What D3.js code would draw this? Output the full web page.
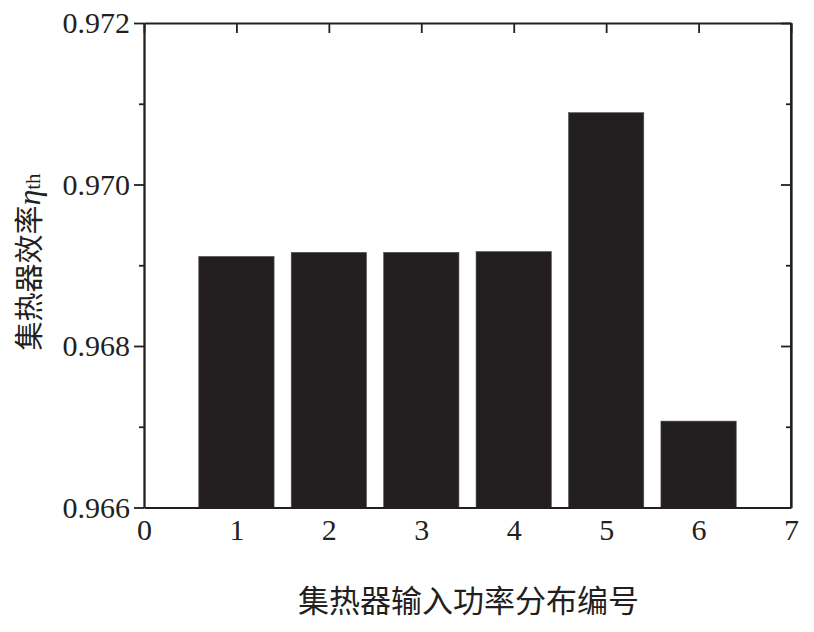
<!DOCTYPE html>
<html><head><meta charset="utf-8">
<script src="https://cdn.jsdelivr.net/npm/d3@7"></script>
<style>body{margin:0;background:#fff}svg{display:block}</style>
</head><body>
<svg id="c" width="814" height="632"></svg>
<script>
const categories = [1, 2, 3, 4, 5, 6];
const values = [0.96911, 0.96916, 0.96916, 0.96917, 0.97089, 0.96707];
const xTicks = [0, 1, 2, 3, 4, 5, 6, 7];
const yMajorTicks = [0.966, 0.968, 0.970, 0.972];
const yMinorTicks = [0.967, 0.969, 0.971];
const xTitle = "集热器输入功率分布编号";
const yTitle = "集热器效率";

const svg = d3.select("#c");
const m = {l: 144, r: 791, t: 23, b: 507.5};
const ink = "#231f20";
const x = d3.scaleLinear().domain([0, 7]).range([m.l, m.r]);
const y = d3.scaleLinear().domain([0.966, 0.972]).range([m.b, m.t]);
const bw = (x(1) - x(0)) * 0.815;

svg.append("g").selectAll("rect").data(categories).join("rect")
  .attr("x", (d) => x(d) - bw / 2)
  .attr("width", bw)
  .attr("y", (d, i) => y(values[i]))
  .attr("height", (d, i) => y(0.966) - y(values[i]))
  .attr("fill", ink)
  .attr("stroke", "#555")
  .attr("stroke-width", 0.6);

const font = "'Liberation Serif', 'Times New Roman', serif";
function styleAxis(g) {
  g.selectAll("path,line").attr("stroke", ink).attr("stroke-width", 1.8);
  g.selectAll("text").attr("font-family", font).attr("font-size", 30).attr("fill", ink);
}
const fmt = d3.format(".3f");
// left major
svg.append("g").attr("transform", `translate(${m.l},0)`)
  .call(d3.axisLeft(y).tickValues(yMajorTicks).tickFormat(fmt).tickSize(10).tickSizeOuter(0).tickPadding(4))
  .call(styleAxis);
// left minor
svg.append("g").attr("transform", `translate(${m.l},0)`)
  .call(d3.axisLeft(y).tickValues(yMinorTicks).tickFormat("").tickSize(5).tickSizeOuter(0))
  .call(styleAxis);
// right major/minor inward
svg.append("g").attr("transform", `translate(${m.r},0)`)
  .call(d3.axisLeft(y).tickValues(yMajorTicks).tickFormat("").tickSizeInner(10).tickSizeOuter(0))
  .call(styleAxis);
svg.append("g").attr("transform", `translate(${m.r},0)`)
  .call(d3.axisLeft(y).tickValues(yMinorTicks).tickFormat("").tickSizeInner(5).tickSizeOuter(0))
  .call(styleAxis);
// bottom
svg.append("g").attr("transform", `translate(0,${m.b})`)
  .call(d3.axisBottom(x).tickValues(xTicks).tickFormat(d3.format("d")).tickSizeInner(0).tickSizeOuter(0).tickPadding(11))
  .call(styleAxis);
// top inward ticks
svg.append("g").attr("transform", `translate(0,${m.t})`)
  .call(d3.axisBottom(x).tickValues(xTicks).tickFormat("").tickSizeInner(10).tickSizeOuter(0))
  .call(styleAxis);
// right axis line
svg.append("line").attr("x1", m.r).attr("x2", m.r).attr("y1", m.t).attr("y2", m.b)
  .attr("stroke", ink).attr("stroke-width", 1.8);

// titles
svg.append("text").attr("x", (m.l + m.r) / 2 + 1).attr("y", 612)
  .attr("text-anchor", "middle").attr("font-family", "'Noto Sans CJK SC', sans-serif")
  .attr("font-size", 31).attr("fill", ink).text(xTitle);

const yt = svg.append("text").attr("transform", "translate(40,262) rotate(-90)")
  .attr("text-anchor", "middle").attr("fill", ink);
yt.append("tspan").attr("font-family", "'Noto Sans CJK SC', sans-serif").attr("font-size", 29).text(yTitle);
yt.append("tspan").attr("font-family", font).attr("font-style", "italic").attr("font-size", 32).text("η");
yt.append("tspan").attr("font-family", font).attr("font-size", 21).text("th");
</script>
</body></html>
